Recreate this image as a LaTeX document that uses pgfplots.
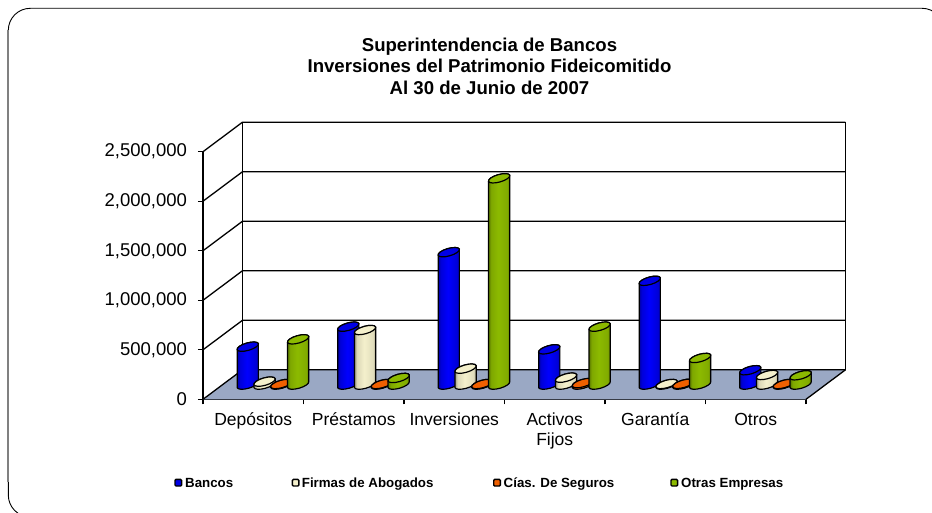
\documentclass[border=0pt]{standalone}
\usepackage{pgfplots}
\usepackage{pgfplotstable}
\usepackage{fontspec}
\setmainfont{Liberation Sans}
\pgfplotsset{compat=1.18}
\pgfplotstableread{
idx bancos firmas cias otras
0 383000 30000 6000 457000
1 585000 551000 6000 67000
2 1337000 161000 6000 2083000
3 356000 70000 15000 585000
4 1048000 6000 8000 269000
5 145000 97000 6000 94000
}\datatable
\definecolor{floorc}{HTML}{9AA8C4}
\def\cylA{10.6pt}\def\cylB{3pt}\def\cylC{-1pt}\def\cylD{3.6pt}
\pgfdeclarehorizontalshading{sblue}{100bp}{color(0bp)=(black!70!blue);color(25bp)=(black!40!blue);color(32bp)=(blue!85!black);color(48bp)=(blue);color(68bp)=(blue!85!black);color(75bp)=(black!40!blue);color(100bp)=(black!40!blue)}
\definecolor{bge}{HTML}{F4F0CC}
\pgfdeclarehorizontalshading{sbeige}{100bp}{color(0bp)=(bge!50!black);color(25bp)=(bge!60!black);color(32bp)=(bge!90!black);color(48bp)=(bge);color(68bp)=(bge!92!black);color(75bp)=(bge!60!black);color(100bp)=(bge!60!black)}
\definecolor{org}{HTML}{F06000}
\pgfdeclarehorizontalshading{sorange}{100bp}{color(0bp)=(org!60!black);color(25bp)=(org!60!black);color(32bp)=(org!90!black);color(48bp)=(org);color(68bp)=(org!92!black);color(75bp)=(org!60!black);color(100bp)=(org!60!black)}
\definecolor{grn}{HTML}{8CBA00}
\pgfdeclarehorizontalshading{sgreen}{100bp}{color(0bp)=(grn!60!black);color(25bp)=(grn!60!black);color(32bp)=(grn!90!black);color(48bp)=(grn);color(68bp)=(grn!92!black);color(75bp)=(grn!60!black);color(100bp)=(grn!60!black)}
% cylinder drawn as a mark at the top centre of the bar, h = value in pt
\newcommand\cylmark[2]{%
  \pgfsetlinewidth{1.2pt}\pgfsetstrokecolor{black}%
  \pgfpathmoveto{\pgfqpoint{-\cylA}{-\cylB}}%
  \pgfpathlineto{\pgfqpoint{-\cylA}{\dimexpr-\cylB-\cylh pt\relax}}%
  \pgfpatharcaxes{180}{360}{\pgfqpoint{\cylA}{\cylB}}{\pgfqpoint{\cylC}{\cylD}}%
  \pgfpathlineto{\pgfqpoint{\cylA}{\cylB}}%
  \pgfpatharcaxes{0}{180}{\pgfqpoint{\cylA}{\cylB}}{\pgfqpoint{\cylC}{\cylD}}%
  \pgfpathclose
  \pgfshadepath{#1}{0}\pgfusepath{stroke}%
  \pgfsetfillcolor{#2}%
  \pgfpathellipse{\pgfpointorigin}{\pgfqpoint{\cylA}{\cylB}}{\pgfqpoint{\cylC}{\cylD}}%
  \pgfusepath{fill,stroke}%
}
\pgfdeclareplotmark{cblue}{\cylmark{sblue}{blue!90!black}}
\pgfdeclareplotmark{cbeige}{\cylmark{sbeige}{bge}}
\pgfdeclareplotmark{corange}{\cylmark{sorange}{org}}
\pgfdeclareplotmark{cgreen}{\cylmark{sgreen}{grn}}
\pgfplotsset{cylseries/.style={only marks,scatter,mark=#1,
  scatter/@pre marker code/.code={\pgfscope},
  scatter/@post marker code/.code={\endpgfscope}}}
\begin{document}
\begin{tikzpicture}[x=1pt,y=1pt]
\useasboundingbox (0,0) rectangle (932,512);
% outer rounded frame, running off the page at the right and the bottom
\begin{scope}
\clip (0,0) rectangle (932,512);
\draw[black,line width=0.9pt,rounded corners=22pt] (8.3,-5) rectangle (944,503.7);
\draw[black!50,line width=1.8pt] (8.3,30) -- (8.3,482);
\end{scope}
% base axis: frame, ticks and labels
\begin{axis}[
  at={(203pt,112.7pt)},anchor=south west,scale only axis,width=603pt,height=247.6pt,
  xmin=0,xmax=6,ymin=0,ymax=2500000,clip=false,
  axis x line=bottom,axis y line=left,
  axis line style={-,black,line width=1.3pt},
  xtick={0.5,1.5,2.5,3.5,4.5,5.5},
  xticklabels={\strut Depósitos,\strut Préstamos,\strut Inversiones,{\strut Activos\\Fijos},\strut Garantía,\strut Otros},
  xticklabel style={align=center,font=\fontsize{17.5}{20}\selectfont,yshift=-3.5pt},
  minor xtick={0,1,2,3,4,5,6},
  ytick={0,500000,1000000,1500000,2000000,2500000},
  scaled y ticks=false,
  /pgf/number format/.cd,assume math mode=true,fixed,1000 sep={,},
  /pgfplots/.cd,
  yticklabel style={font=\fontsize{18.5}{20}\selectfont,xshift=-7.5pt},
  major x tick style={draw=none},
  minor tick length=5pt,major tick length=5pt,
  tick style={black,line width=1.2pt},
  tick align=outside,
]
% floor and back wall
\def\dxw{0.393}\def\dyw{298000}
\fill[floorc] (axis cs:0,0) -- (axis cs:\dxw,\dyw) -- (axis cs:6+\dxw,\dyw) -- (axis cs:6,0) -- cycle;
\foreach \v in {0,500000,1000000,1500000,2000000,2500000}{
  \edef\tmp{\noexpand\draw[black,line width=1.3pt] (axis cs:0,\v) -- (axis cs:\dxw,\v+\dyw) -- (axis cs:6+\dxw,\v+\dyw);}\tmp
}
\draw[black,line width=1.3pt] (axis cs:\dxw,\dyw) -- (axis cs:\dxw,2500000+\dyw);
\draw[black,line width=1.3pt] (axis cs:6+\dxw,\dyw) -- (axis cs:6+\dxw,2500000+\dyw);
\draw[black,line width=1.3pt] (axis cs:6,0) -- (axis cs:6+\dxw,\dyw);
\end{axis}
% cylinders: same scale, origin moved to mid-depth of the floor
\begin{axis}[
  at={(222.7pt,127.4pt)},anchor=south west,scale only axis,width=603pt,height=247.6pt,
  xmin=0,xmax=6,ymin=0,ymax=2500000,clip=false,hide axis,
]
\addplot[cylseries=cblue,visualization depends on={\thisrow{bancos}*247.6/2500000 \as \cylh}]
  table[x expr=\coordindex+0.5-0.2507,y=bancos]{\datatable};
\addplot[cylseries=cbeige,visualization depends on={\thisrow{firmas}*247.6/2500000 \as \cylh}]
  table[x expr=\coordindex+0.5-0.0836,y=firmas]{\datatable};
\addplot[cylseries=corange,visualization depends on={\thisrow{cias}*247.6/2500000 \as \cylh}]
  table[x expr=\coordindex+0.5+0.0836,y=cias]{\datatable};
\addplot[cylseries=cgreen,visualization depends on={\thisrow{otras}*247.6/2500000 \as \cylh}]
  table[x expr=\coordindex+0.5+0.2507,y=otras]{\datatable};
\end{axis}
% title
\node[align=center,font=\fontsize{18.6}{21.6}\selectfont\bfseries] at (489.5,446)
  {Superintendencia de Bancos\\Inversiones del Patrimonio Fideicomitido\\Al 30 de Junio de 2007};
% legend
\begin{scope}[font=\fontsize{13.3}{15}\selectfont\bfseries]
\draw[black,line width=1.4pt,fill=blue!90!black,rounded corners=1pt] (175,26) rectangle (181.6,32.6);
\node[anchor=base west,inner sep=0pt] at (185,24.6) {Bancos};
\draw[black,line width=1.4pt,fill=bge,rounded corners=1pt] (292.4,26) rectangle (298.8,32.6);
\node[anchor=base west,inner sep=0pt] at (301.7,24.6) {Firmas de Abogados};
\draw[black,line width=1.4pt,fill=org,rounded corners=1pt] (493.7,26) rectangle (500.3,32.6);
\node[anchor=base west,inner sep=0pt] at (503.5,24.6) {Cías. De Seguros};
\draw[black,line width=1.4pt,fill=grn,rounded corners=1pt] (671,26) rectangle (677.6,32.6);
\node[anchor=base west,inner sep=0pt] at (681,24.6) {Otras Empresas};
\end{scope}
\end{tikzpicture}
\end{document}
